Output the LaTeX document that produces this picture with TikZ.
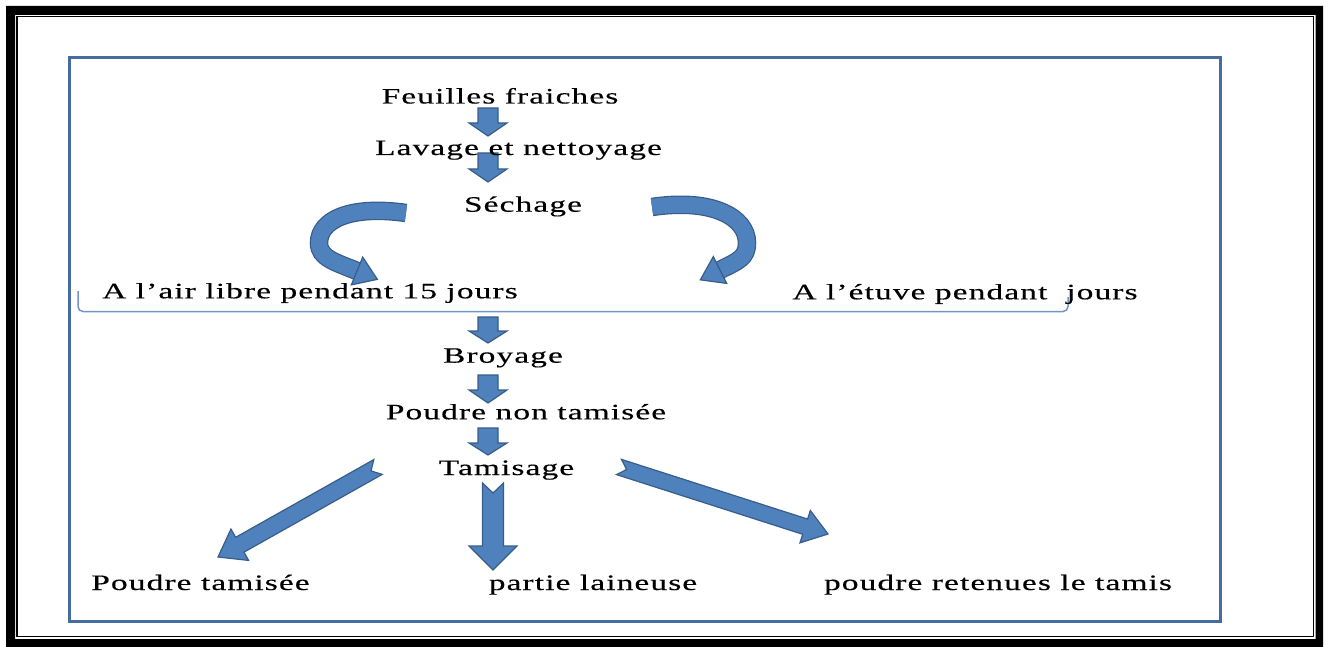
\documentclass[tikz,border=0pt]{standalone}
\usepackage{fontspec}
\newfontfamily\lblfont{Liberation Serif}[FakeStretch=1.52,LetterSpace=5,FakeBold=0.3]
\usetikzlibrary{calc}
\definecolor{clrArrowFill}{RGB}{79,129,189}
\definecolor{clrArrowLine}{RGB}{56,93,138}
\definecolor{clrFrameBlue}{RGB}{68,108,160}
\definecolor{clrBracket}{RGB}{110,150,205}
\tikzset{
  lbl/.style={font=\lblfont\fontsize{22}{26}\selectfont, inner sep=0pt, anchor=base},
  blockarr/.style={fill=clrArrowFill, draw=clrArrowLine, line width=1.2pt, line join=miter},
}
% #1 start, #2 end, #3 shaft half width, #4 head half width, #5 head length, #6 notch depth
\newcommand\blockarrow[6]{%
  \coordinate (ba-m) at ($(#2)!#5!(#1)$);
  \filldraw[blockarr] ($(#1)!#3!90:(#2)$) -- ($(#1)!#6!(#2)$) -- ($(#1)!#3!-90:(#2)$)
    -- ($(ba-m)!#3!-90:(#2)$) -- ($(ba-m)!#4!-90:(#2)$) -- (#2)
    -- ($(ba-m)!#4!90:(#2)$) -- ($(ba-m)!#3!90:(#2)$) -- cycle;
}
% curved arrow: #1 tail, #2 #3 controls, #4 middle, #5 #6 controls, #7 head base
\newcommand\curvedarrow[7]{%
  \draw[clrArrowLine, line width=18.5pt] (#1) .. controls (#2) and (#3) .. (#4) .. controls (#5) and (#6) .. (#7);
  \draw[clrArrowFill, line width=16pt] (#1) .. controls (#2) and (#3) .. (#4) .. controls (#5) and (#6) .. (#7);
  \filldraw[blockarr] ($(#7)!15pt!90:(#6)$) -- ($(#7)!-22pt!(#6)$) -- ($(#7)!15pt!-90:(#6)$) -- cycle;
}
\begin{document}
\begin{tikzpicture}[x=1pt,y=-1pt]
\useasboundingbox (0,0) rectangle (1330,647);
% outer black frame
\fill[black, even odd rule] (6,6) rectangle (1323,647) (15,15) rectangle (1315.7,639);
\draw[black, line width=1.4pt] (16.8,16.8) rectangle (1313.3,636.7);
% blue frame
\draw[clrFrameBlue, line width=3pt] (69,57.7) rectangle (1220,621.7);

% bracket
\coordinate (brA) at (78,291);
\coordinate (brC) at (1068,311.5);
\coordinate (brB) at (1068,297);
\draw[clrBracket, line width=1.5pt, rounded corners=5pt] (brA) |- (brC) -- (brB);

% straight block arrows
\coordinate (a1s) at (488,108); \coordinate (a1e) at (488,136);
\coordinate (a2s) at (488,153); \coordinate (a2e) at (488,182);
\coordinate (a3s) at (488,317); \coordinate (a3e) at (488,343);
\coordinate (a4s) at (488,375); \coordinate (a4e) at (488,403);
\coordinate (a5s) at (488,428); \coordinate (a5e) at (488,455);
\blockarrow{a1s}{a1e}{10pt}{19pt}{13pt}{0pt}
\blockarrow{a2s}{a2e}{10pt}{19pt}{13pt}{0pt}
\blockarrow{a3s}{a3e}{10pt}{19pt}{12pt}{0pt}
\blockarrow{a4s}{a4e}{10pt}{19pt}{13pt}{0pt}
\blockarrow{a5s}{a5e}{10pt}{19pt}{12pt}{0pt}

\coordinate (bms) at (493,483); \coordinate (bme) at (493,570);
\coordinate (bls) at (378,467); \coordinate (ble) at (218,557);
\coordinate (brs) at (619,467); \coordinate (bre) at (828,534);
\blockarrow{bms}{bme}{10.5pt}{24pt}{24pt}{10pt}
\blockarrow{bls}{ble}{8.5pt}{18pt}{25pt}{8pt}
\blockarrow{brs}{bre}{8pt}{17pt}{24pt}{8pt}

% curved arrows
\coordinate (cl0) at (406,213); \coordinate (cl1) at (350,205);
\coordinate (cl2) at (319,220); \coordinate (clm) at (319,243);
\coordinate (cl3) at (319,258); \coordinate (cl4) at (335,262);
\coordinate (cl5) at (357,271);
\curvedarrow{cl0}{cl1}{cl2}{clm}{cl3}{cl4}{cl5}
\coordinate (cr0) at (652,207); \coordinate (cr1) at (712,198);
\coordinate (cr2) at (747,217); \coordinate (crm) at (747,243);
\coordinate (cr3) at (747,258); \coordinate (cr4) at (738,261);
\coordinate (cr5) at (720,270);
\curvedarrow{cr0}{cr1}{cr2}{crm}{cr3}{cr4}{cr5}

% labels
\node[lbl] (feuilles) at (500,103.5) {Feuilles fraiches};
\node[lbl] (lavage) at (518.5,155) {Lavage et nettoyage};
\node[lbl] (sechage) at (523,211.7) {Séchage};
\node[lbl] (airlibre) at (310,298.3) {A l’air libre pendant 15 jours};
\node[lbl] (etuve) at (965,299.3) {A l’étuve pendant~ jours};
\node[lbl] (broyage) at (503,362.7) {Broyage};
\node[lbl] (poudrenon) at (526,419.3) {Poudre non tamisée};
\node[lbl] (tamisage) at (506.5,475) {Tamisage};
\node[lbl] (ptamisee) at (200.5,590) {Poudre tamisée};
\node[lbl] (laineuse) at (593,590) {partie laineuse};
\node[lbl] (retenues) at (998,590) {poudre retenues le tamis};
\end{tikzpicture}
\end{document}
